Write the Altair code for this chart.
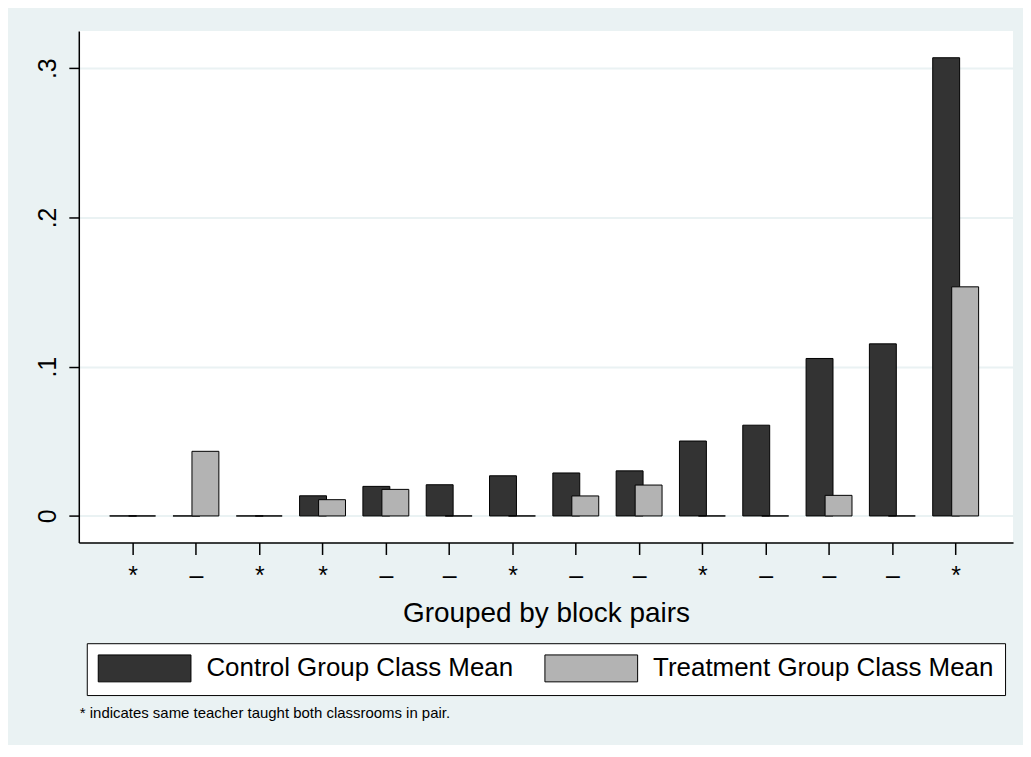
import altair as alt
import pandas as pd

# ---- data ----
groups = list(range(1, 15))
pair_marks = ["*", "–", "*", "*", "–", "–", "*", "–", "–", "*", "–", "–", "–", "*"]
control = [0.0, 0.0, 0.0, 0.0135, 0.0198, 0.0209, 0.0269, 0.0288, 0.0302,
           0.0502, 0.0608, 0.1055, 0.1153, 0.3070]
treatment = [0.0, 0.0433, 0.0, 0.0109, 0.0178, 0.0, 0.0, 0.0134, 0.0207,
             0.0, 0.0, 0.0138, 0.0, 0.1535]
series_names = ["Control Group Class Mean", "Treatment Group Class Mean"]
series_colors = ["#333333", "#b3b3b3"]
y_ticks = [0, 0.1, 0.2, 0.3]
y_tick_labels = ["0", ".1", ".2", ".3"]
x_title = "Grouped by block pairs"
note = "* indicates same teacher taught both classrooms in pair."

FONT = "Liberation Sans, Arial, Helvetica, sans-serif"
BG = "#EAF2F3"

rows = []
for g, v in zip(groups, control):
    rows.append({"group": g, "series": series_names[0], "value": v, "side": -1})
for g, v in zip(groups, treatment):
    rows.append({"group": g, "series": series_names[1], "value": v, "side": 1})
df = pd.DataFrame(rows)

x_label_expr = "[" + ",".join("'%s'" % m for m in pair_marks) + "][datum.value - 1]"
y_label_expr = "[" + ",".join("'%s'" % s for s in y_tick_labels) + "][round(datum.value * 10)]"

bars = alt.Chart(df).transform_calculate(
    xa="datum.group + datum.side * 0.15 - 0.2125",
    xb="datum.group + datum.side * 0.15 + 0.2125",
    base="0",
).mark_bar(stroke="black", strokeWidth=1, opacity=1).encode(
    x=alt.X(
        "xa:Q",
        scale=alt.Scale(domain=[0.15, 14.906], nice=False, zero=False),
        axis=alt.Axis(
            values=groups, labelExpr=x_label_expr, title=x_title, grid=False,
            tickSize=12, tickColor="black", tickWidth=1.5,
            domainColor="black", domainWidth=1.5,
            labelPadding=29, labelFontSize=25, labelFont=FONT, labelColor="black",
            labelBaseline="alphabetic", labelAlign="center",
            titleFontSize=28, titleFontWeight="normal", titleFont=FONT,
            titleColor="black", titleBaseline="alphabetic", titleY=79,
        ),
    ),
    x2="xb:Q",
    y=alt.Y(
        "value:Q",
        scale=alt.Scale(domain=[-0.0178, 0.3249], nice=False, zero=False),
        axis=alt.Axis(
            values=y_ticks, labelExpr=y_label_expr, title=None, grid=True,
            gridColor=BG, gridWidth=2,
            tickSize=10, tickColor="black", tickWidth=1.5,
            domainColor="black", domainWidth=1.5,
            labelAngle=270, labelAlign="center", labelBaseline="alphabetic",
            labelPadding=13, labelFontSize=25, labelFont=FONT, labelColor="black",
        ),
    ),
    y2="base:Q",
    fill=alt.Fill(
        "series:N",
        scale=alt.Scale(domain=series_names, range=series_colors),
        legend=alt.Legend(
            orient="none", legendX=8, legendY=614, direction="horizontal",
            columns=2, title=None,
            symbolType="M-3.444,-1H3.444V1H-3.444Z", symbolSize=729,
            symbolOffset=33,
            symbolStrokeColor="black", symbolStrokeWidth=1, symbolOpacity=1,
            labelFontSize=26, labelFont=FONT, labelColor="black",
            labelOffset=48, labelLimit=600, columnPadding=29, padding=11,
            strokeColor="black", fillColor="white",
        ),
    ),
)

note_layer = alt.Chart(pd.DataFrame({"t": [note]})).mark_text(
    align="left", baseline="alphabetic", fontSize=15, font=FONT, color="black"
).encode(x=alt.value(1), y=alt.value(689.5), text="t:N")

chart = alt.layer(bars, note_layer).properties(
    width=937, height=513,
    padding={"left": 71, "top": 22, "right": 10, "bottom": 202},
    autosize=alt.AutoSizeParams(type="none"),
    background=BG,
).configure_view(fill="white", strokeWidth=0)

chart.save("out.html", embed_options={"renderer": "svg", "actions": False})
